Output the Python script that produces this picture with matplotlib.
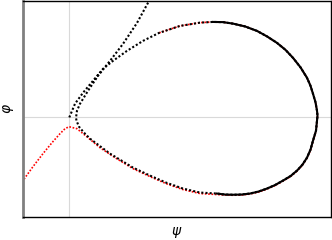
import matplotlib
matplotlib.use("Agg")
import matplotlib.pyplot as plt


# Data (psi, phi)


# black orbit: starts near origin, loops clockwise, leaves to the upper right
orbit_psi = [
    0.003, 0.06, 0.14, 0.24, 0.34, 0.44, 0.58, 0.74, 0.90, 1.11, 1.31,
    1.44, 1.54, 1.64, 1.76, 1.88, 1.98, 2.08, 2.165, 2.24, 2.315, 2.38,
    2.415, 2.44, 2.465, 2.48, 2.485, 2.48, 2.47, 2.44, 2.415, 2.38,
    2.335, 2.28, 2.215, 2.14, 2.06, 1.98, 1.895, 1.81, 1.725, 1.64,
    1.56, 1.48, 1.31, 1.14, 0.97, 0.81, 0.64, 0.41, 0.21, 0.15, 0.10,
    0.075, 0.07, 0.08, 0.11, 0.19, 0.29, 0.41, 0.54, 0.68, 0.80, 0.83
]
orbit_phi = [
    -0.007, 0.13, 0.24, 0.36, 0.48, 0.56, 0.66, 0.76, 0.84, 0.91, 0.943,
    0.95, 0.948, 0.933, 0.905, 0.86, 0.805, 0.74, 0.67, 0.59, 0.495,
    0.39, 0.31, 0.23, 0.145, 0.06, 0.01, -0.04, -0.14, -0.24, -0.33,
    -0.41, -0.48, -0.54, -0.595, -0.64, -0.685, -0.72, -0.75, -0.77,
    -0.78, -0.782, -0.78, -0.77, -0.76, -0.72, -0.66, -0.59, -0.51,
    -0.37, -0.22, -0.16, -0.10, -0.04, -0.01, 0.06, 0.13, 0.26, 0.41,
    0.56, 0.73, 0.94, 1.16, 1.21
]

# red trajectory: comes in from the left, peaks at psi=0, follows the loop
red_psi = [
    -0.49, -0.46, -0.36, -0.26, -0.17, -0.09, -0.04, 0.0, 0.08, 0.19,
    0.31, 0.46, 0.64, 0.81, 0.97, 1.14, 1.31, 1.48, 1.56, 1.64, 1.725,
    1.81, 1.895, 1.98, 2.06, 2.14, 2.215, 2.28, 2.335, 2.38, 2.415, 2.44,
    2.47, 2.48, 2.485, 2.48, 2.465, 2.44, 2.415, 2.38, 2.315, 2.24,
    2.165, 2.08, 1.98, 1.88, 1.76, 1.64, 1.54, 1.44, 1.31, 1.11, 0.90
]
red_phi = [
    -0.68, -0.64, -0.50, -0.37, -0.26, -0.17, -0.12, -0.10, -0.12, -0.21,
    -0.31, -0.41, -0.52, -0.60, -0.67, -0.73, -0.77, -0.78, -0.785,
    -0.787, -0.785, -0.775, -0.755, -0.725, -0.69, -0.645, -0.60, -0.545,
    -0.485, -0.415, -0.335, -0.245, -0.145, -0.04, 0.01, 0.06, 0.145,
    0.23, 0.31, 0.39, 0.495, 0.59, 0.67, 0.74, 0.805, 0.86, 0.905, 0.933,
    0.948, 0.95, 0.943, 0.91, 0.84
]

# part of the orbit drawn densely (looks solid)
solid_start, solid_end = 11, 44


# Plot


fig = plt.figure(figsize=(3.32, 2.40), dpi=100)
ax = fig.add_axes([23 / 332, 23.5 / 240, 308 / 332, 216 / 240 - 0.002])

ax.axhline(0, color="#d9d9d9", linewidth=0.8, zorder=0)
ax.axvline(0, color="#d9d9d9", linewidth=0.8, zorder=0)

ax.plot(red_psi, red_phi, color="red", linestyle=(0, (1, 1)),
        linewidth=1.2, zorder=2)

ax.plot(orbit_psi, orbit_phi, color="black", linestyle=(0, (1, 1)),
        linewidth=1.5, zorder=3)
ax.plot(orbit_psi[solid_start:solid_end], orbit_phi[solid_start:solid_end],
        color="black", linewidth=1.5, zorder=3)

ax.set_xlim(-0.46, 2.62)
ax.set_ylim(-1.0, 1.16)

ax.set_xticks([])
ax.set_yticks([])

ax.set_xlabel(r"$\psi$", fontsize=10, labelpad=6)
ax.set_ylabel(r"$\varphi$", fontsize=10, labelpad=5)

for side in ["top", "right", "bottom"]:
    ax.spines[side].set_color("black")
    ax.spines[side].set_linewidth(1.0)
ax.spines["left"].set_color("#808080")
ax.spines["left"].set_linewidth(2.0)

fig.savefig("out.png", dpi=100)
